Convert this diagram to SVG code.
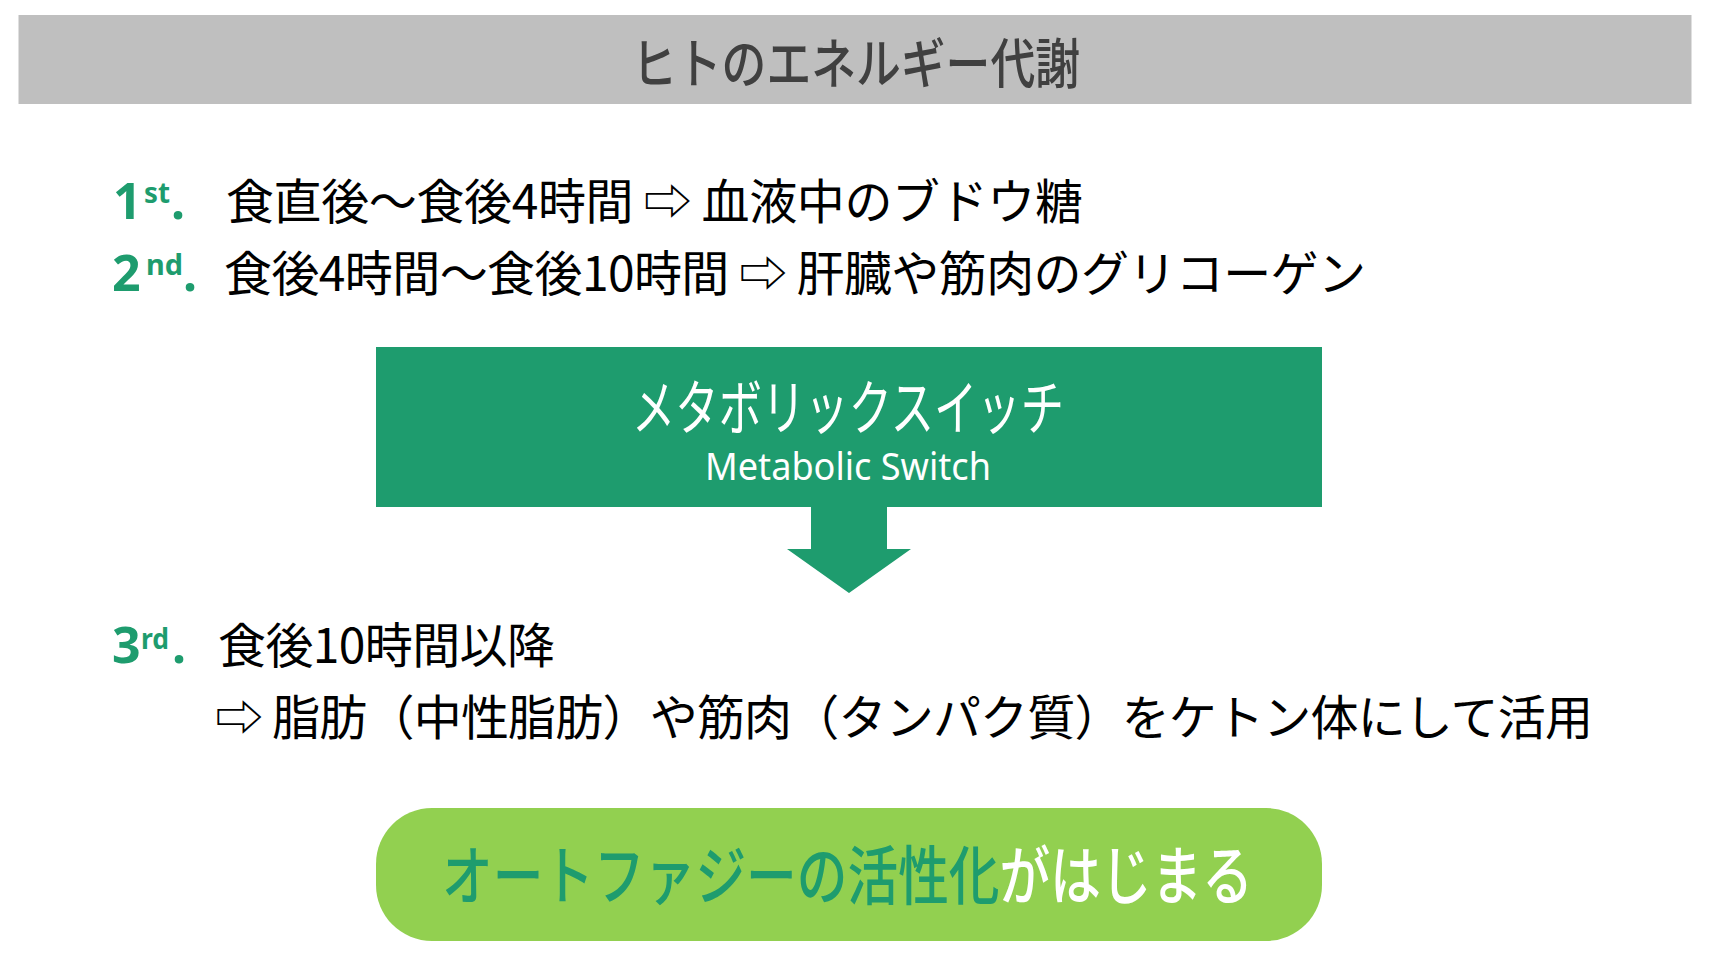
<svg xmlns="http://www.w3.org/2000/svg" width="1710" height="962" viewBox="0 0 1710 962">
  <style>
    .jp { font-family: "Noto Sans CJK JP", "Noto Sans", sans-serif; }
    .body { font-size: 48px; fill: #000000; }
    .num { font-family: "Noto Sans", "Liberation Sans", sans-serif; font-weight: bold; fill: #1E9C6E; }
    .big { font-size: 50px; }
    .sup { font-size: 28px; }
  </style>
  <rect width="1710" height="962" fill="#FFFFFF"/>

  <g id="title">
    <rect x="18.5" y="15" width="1673" height="89" fill="#BFBFBF"/>
    <text class="jp" x="632" y="84" font-size="54" font-weight="500" fill="#404040" textLength="448" lengthAdjust="spacingAndGlyphs">ヒトのエネルギー代謝</text>
  </g>

  <g id="step1">
    <text class="num big" x="113" y="219">1</text>
    <text class="num sup" x="144" y="203" textLength="26" lengthAdjust="spacingAndGlyphs">st</text>
    <text class="num big" x="171" y="219">.</text>
    <text class="jp body" x="226" y="219" textLength="857">食直後～食後4時間 ⇨ 血液中のブドウ糖</text>
  </g>

  <g id="step2">
    <text class="num big" x="112" y="291">2</text>
    <text class="num sup" x="146" y="275" textLength="37" lengthAdjust="spacingAndGlyphs">nd</text>
    <text class="num big" x="183" y="291">.</text>
    <text class="jp body" x="224" y="291" textLength="1142">食後4時間～食後10時間 ⇨ 肝臓や筋肉のグリコーゲン</text>
  </g>

  <g id="metabolic-switch">
    <rect x="376" y="347" width="946" height="160" fill="#1E9C6E"/>
    <text class="jp" x="632" y="430" font-size="60" fill="#FFFFFF" textLength="432" lengthAdjust="spacingAndGlyphs">メタボリックスイッチ</text>
    <text x="705" y="480" font-family="Noto Sans, Liberation Sans, sans-serif" font-size="38" fill="#FFFFFF" textLength="286" lengthAdjust="spacingAndGlyphs">Metabolic Switch</text>
  </g>

  <g id="connectors">
    <polygon points="811,507 887,507 887,549 911,549 849,593 787,549 811,549" fill="#1E9C6E"/>
  </g>

  <g id="step3">
    <text class="num big" x="112" y="663">3</text>
    <text class="num sup" x="141" y="649" textLength="28" lengthAdjust="spacingAndGlyphs">rd</text>
    <text class="num big" x="172" y="663">.</text>
    <text class="jp body" x="218" y="663" textLength="337">食後10時間以降</text>
    <text class="jp body" x="215" y="735" textLength="1378">⇨ 脂肪（中性脂肪）や筋肉（タンパク質）をケトン体にして活用</text>
  </g>

  <g id="autophagy">
    <rect x="376" y="808" width="946" height="133" rx="56" ry="56" fill="#92D050"/>
    <text class="jp" x="442" y="899" font-size="64" font-weight="500" textLength="811" lengthAdjust="spacingAndGlyphs"><tspan fill="#1E9C6E">オートファジーの活性化</tspan><tspan fill="#FFFFFF">がはじまる</tspan></text>
  </g>
</svg>
